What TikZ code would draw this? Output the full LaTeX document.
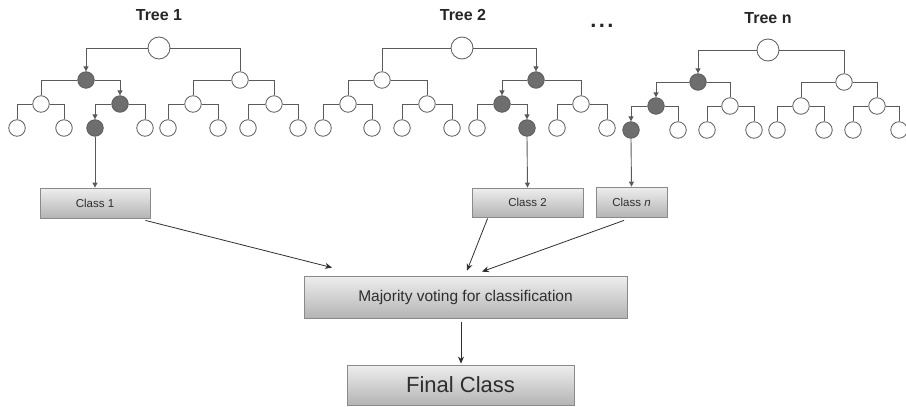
\documentclass[tikz,border=0pt]{standalone}
\usepackage{fontspec}
\setmainfont{Liberation Sans}
\usetikzlibrary{arrows.meta}
\definecolor{lnc}{HTML}{5A5A5A}
\definecolor{darkn}{HTML}{6E6E6E}
\definecolor{txtc}{HTML}{2E2E2E}
\definecolor{boxtop}{HTML}{EEEEEE}
\definecolor{boxbot}{HTML}{B4B4B4}
\definecolor{boxln}{HTML}{8A8A8A}
\tikzset{
  wn/.style={circle,draw=lnc,line width=0.8pt,fill=white,minimum size=16.5pt,inner sep=0pt},
  dn/.style={wn,fill=darkn},
  rootn/.style={wn,minimum size=22pt},
  edge/.style={draw=lnc,line width=0.9pt},
  aedge/.style={edge,-{Triangle[length=5pt,width=5pt]}},
  flow/.style={draw=txtc,line width=0.8pt,-{Stealth[length=7pt,width=6pt]}},
  cbox/.style={rectangle,draw=boxln,line width=0.8pt,top color=boxtop,bottom color=boxbot,inner sep=0pt,text=txtc},
  title/.style={font=\fontsize{16}{18}\selectfont\bfseries,text=black!85}
}
\begin{document}
\begin{tikzpicture}[x=1pt,y=-1pt]
\useasboundingbox (0,0) rectangle (906,407);
% titles
\node[title] (ti1) at (159,15) {Tree 1};
\node[title] (ti2) at (463,15) {Tree 2};
\node[title] (tin) at (768,18) {Tree n};
\node[title,font=\fontsize{22}{24}\selectfont\bfseries,anchor=base,inner sep=0pt] (dots) at (602,27.5) {.\hspace{2.4pt}.\hspace{2.4pt}.};
% Tree 1
\node[rootn] (t1r) at (159,48) {};
\node[dn] (t1a) at (86,80) {};
\node[wn] (t1b) at (240,80) {};
\node[wn] (t1aa) at (41,104) {};
\node[dn] (t1ab) at (120,104) {};
\node[wn] (t1ba) at (193,104) {};
\node[wn] (t1bb) at (274,104) {};
\node[wn] (t1aaa) at (17,128) {};
\node[wn] (t1aab) at (64,128) {};
\node[dn] (t1aba) at (95,128) {};
\node[wn] (t1abb) at (145,128) {};
\node[wn] (t1baa) at (168,128) {};
\node[wn] (t1bab) at (218,128) {};
\node[wn] (t1bba) at (248,128) {};
\node[wn] (t1bbb) at (298,128) {};
% Tree 2
\node[rootn] (t2r) at (462,48) {};
\node[wn] (t2a) at (382,80) {};
\node[dn] (t2b) at (536,80) {};
\node[wn] (t2aa) at (348,104) {};
\node[wn] (t2ab) at (427,104) {};
\node[dn] (t2ba) at (502,104) {};
\node[wn] (t2bb) at (581,104) {};
\node[wn] (t2aaa) at (323,128) {};
\node[wn] (t2aab) at (372,128) {};
\node[wn] (t2aba) at (402,128) {};
\node[wn] (t2abb) at (452,128) {};
\node[wn] (t2baa) at (477,128) {};
\node[dn] (t2bab) at (527,128) {};
\node[wn] (t2bba) at (557,128) {};
\node[wn] (t2bbb) at (607,128) {};
% Tree n
\node[rootn] (tnr) at (768,50) {};
\node[dn] (tna) at (698,82) {};
\node[wn] (tnb) at (844,82) {};
\node[dn] (tnaa) at (656,106) {};
\node[wn] (tnab) at (730,106) {};
\node[wn] (tnba) at (801,106) {};
\node[wn] (tnbb) at (877,106) {};
\node[dn] (tnaaa) at (631,130) {};
\node[wn] (tnaab) at (678,130) {};
\node[wn] (tnaba) at (707,130) {};
\node[wn] (tnabb) at (754,130) {};
\node[wn] (tnbaa) at (777,130) {};
\node[wn] (tnbab) at (824,130) {};
\node[wn] (tnbba) at (853,130) {};
\node[wn] (tnbbb) at (899,130) {};
% plain edges
\foreach \p/\c/\s in {
  t1r/t1b/east, t1a/t1aa/west, t1aa/t1aaa/west, t1aa/t1aab/east, t1ab/t1abb/east,
  t1b/t1ba/west, t1b/t1bb/east, t1ba/t1baa/west, t1ba/t1bab/east, t1bb/t1bba/west, t1bb/t1bbb/east,
  t2r/t2a/west, t2a/t2aa/west, t2a/t2ab/east, t2aa/t2aaa/west, t2aa/t2aab/east, t2ab/t2aba/west, t2ab/t2abb/east,
  t2b/t2bb/east, t2ba/t2baa/west, t2bb/t2bba/west, t2bb/t2bbb/east,
  tnr/tnb/east, tna/tnab/east, tnaa/tnaab/east, tnab/tnaba/west, tnab/tnabb/east,
  tnb/tnba/west, tnb/tnbb/east, tnba/tnbaa/west, tnba/tnbab/east, tnbb/tnbba/west, tnbb/tnbbb/east}
  \draw[edge] (\p.\s) -| (\c.north);
% decision paths
\foreach \p/\c/\s in {
  t1r/t1a/west, t1a/t1ab/east, t1ab/t1aba/west,
  t2r/t2b/east, t2b/t2ba/west, t2ba/t2bab/east,
  tnr/tna/west, tna/tnaa/west, tnaa/tnaaa/west}
  \draw[aedge] (\p.\s) -| (\c.north);
% class boxes
\node[cbox,minimum width=110pt,minimum height=30pt,font=\fontsize{11.5}{13}\selectfont] (c1) at (95,203) {Class 1};
\node[cbox,minimum width=111pt,minimum height=29pt,font=\fontsize{11.5}{13}\selectfont] (c2) at (527.5,202.5) {Class 2};
\node[cbox,minimum width=71pt,minimum height=30pt,font=\fontsize{11.5}{13}\selectfont] (cn) at (631.5,202) {Class \textit{n}};
\node[cbox,minimum width=323pt,minimum height=42pt,font=\fontsize{15.5}{18}\selectfont] (maj) at (465.5,297) {Majority voting for classification};
\node[cbox,minimum width=227pt,minimum height=40pt,font=\fontsize{22}{26}\selectfont] (fin) at (460.5,385) {Final Class};
% tree to class
\draw[aedge,line width=0.9pt] (t1aba.south) -- (c1.north);
\draw[aedge,line width=0.9pt] (t2bab.south) -- (c2.north);
\draw[aedge,line width=0.9pt] (tnaaa.south) -- (cn.north);
% class to majority
\draw[flow] ([shift={(-5,2)}]c1.south east) -- ([shift={(-133.5,-8)}]maj.north);
\draw[flow] ([shift={(16,1)}]c2.south west) -- ([shift={(1.5,-5)}]maj.north);
\draw[flow] ([shift={(-7.5,3)}]cn.south) -- ([shift={(16.5,-4)}]maj.north);
\draw[flow] ([shift={(-4.5,4)}]maj.south) -- ([shift={(0.5,-1)}]fin.north);
\end{tikzpicture}
\end{document}
